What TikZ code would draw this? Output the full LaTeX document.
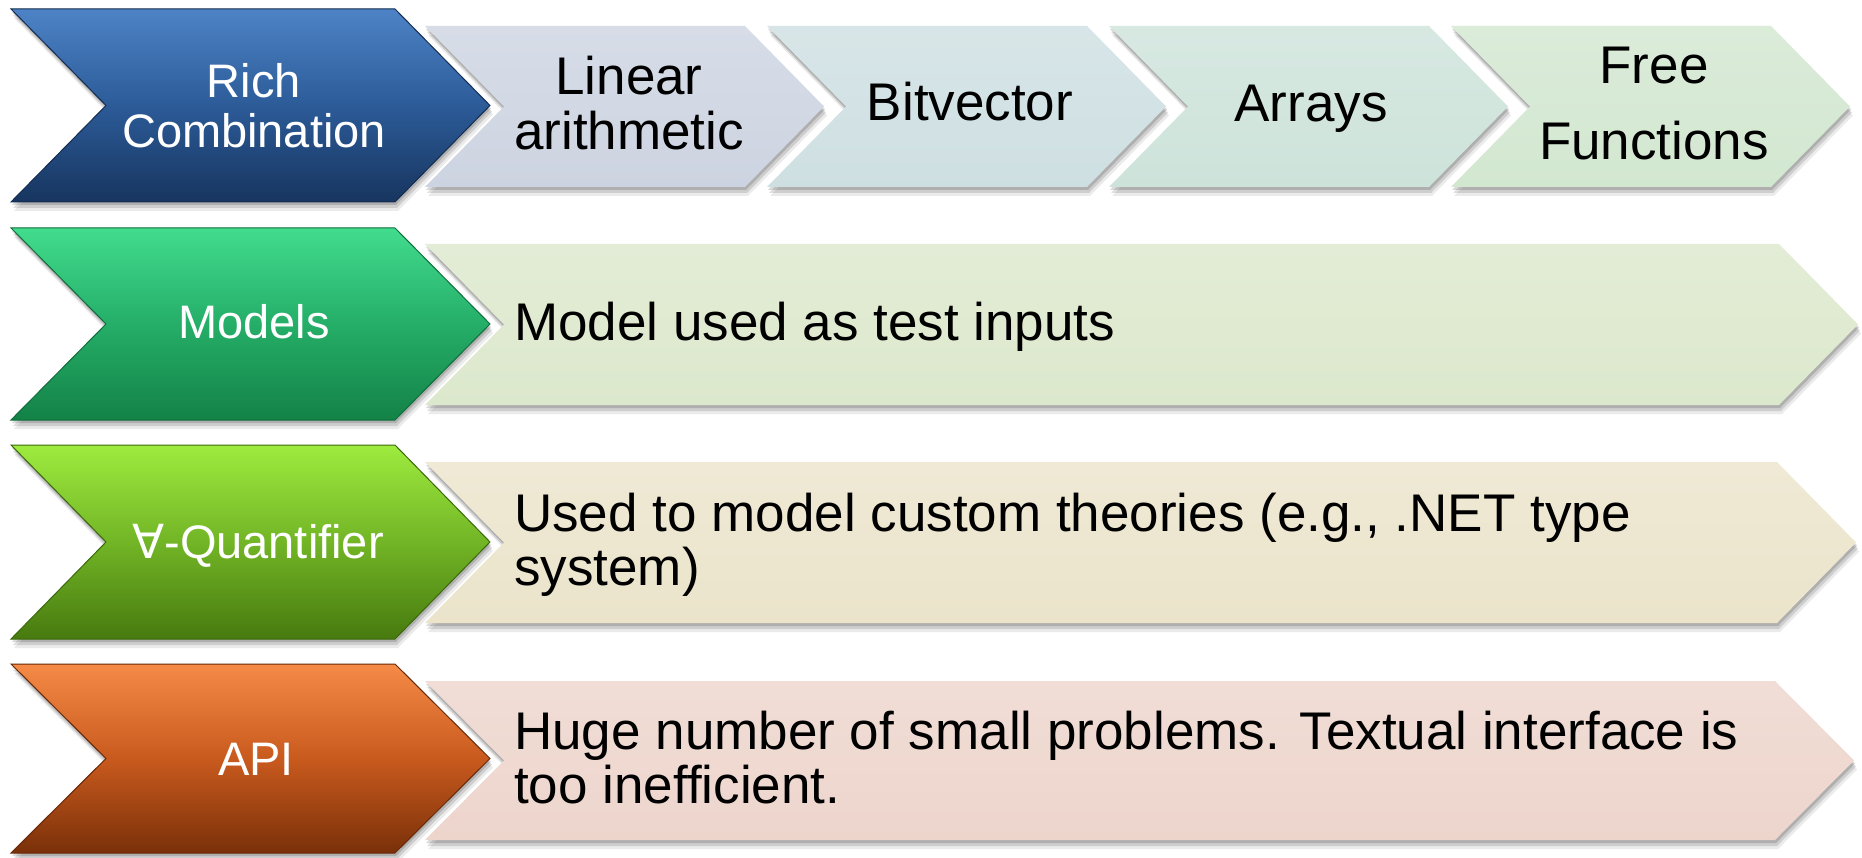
\documentclass[tikz,border=0pt]{standalone}
\usepackage{fontspec}
\setmainfont{Liberation Sans}
\newfontfamily\symfam{DejaVu Sans}
\usetikzlibrary{shadows}
\definecolor{bluetop}{HTML}{4D83C6}
\definecolor{bluemid}{HTML}{2C5B98}
\definecolor{bluebot}{HTML}{17355F}
\definecolor{greentop}{HTML}{42DC8E}
\definecolor{greenmid}{HTML}{25AE68}
\definecolor{greenbot}{HTML}{138246}
\definecolor{limetop}{HTML}{9EEB3E}
\definecolor{limemid}{HTML}{72B526}
\definecolor{limebot}{HTML}{477A0F}
\definecolor{orgtop}{HTML}{F58B47}
\definecolor{orgmid}{HTML}{C95A1E}
\definecolor{orgbot}{HTML}{7A3009}
\definecolor{linfill}{HTML}{CDD4E1}
\definecolor{bitfill}{HTML}{CEDFE2}
\definecolor{arrfill}{HTML}{CDE3DA}
\definecolor{fffill}{HTML}{D2E7D0}
\definecolor{modfill}{HTML}{DCE8CC}
\definecolor{quafill}{HTML}{EBE4CB}
\definecolor{apifill}{HTML}{EDD5CC}
\newcommand\chev[6]{\path[#6] (#1,#2) -- ({#3-#5},#2) -- (#3,{(#2+#4)/2}) -- ({#3-#5},#4) -- (#1,#4) -- ({#1+#5},{(#2+#4)/2}) -- cycle;}
\tikzset{
  shad/.style={
    drop shadow={shadow xshift=3pt,shadow yshift=-9pt,opacity=0.08,fill=black},
    drop shadow={shadow xshift=2pt,shadow yshift=-6pt,opacity=0.12,fill=black},
    drop shadow={shadow xshift=1pt,shadow yshift=-3pt,opacity=0.15,fill=black}},
  bigchev/.style n args={3}{shad, top color=#1, bottom color=#3, middle color=#2, draw=#3!85!black, line width=1pt},
  smallchev/.style={shad, top color=#1!80!white, bottom color=#1},
  lbl/.style={text=white, font=\fontsize{47}{50}\selectfont, align=center, inner sep=0pt},
  hd/.style={text=black, font=\fontsize{53}{55}\selectfont, align=center, inner sep=0pt},
  dt/.style={text=black, font=\fontsize{53}{54}\selectfont, align=left, inner sep=0pt},
}
\begin{document}
\begin{tikzpicture}[x=1pt,y=-1pt]
\useasboundingbox (0,0) rectangle (1862,858);
\fill[white] (0,0) rectangle (1862,858);
% detail shapes
\chev{425}{26}{824}{187}{79}{smallchev=linfill}
\chev{767}{26}{1166}{187}{79}{smallchev=bitfill}
\chev{1109}{26}{1508}{187}{79}{smallchev=arrfill}
\chev{1451}{26}{1850}{187}{79}{smallchev=fffill}
\chev{425}{244}{1858}{405}{79}{smallchev=modfill}
\chev{425}{462}{1856}{623}{79}{smallchev=quafill}
\chev{425}{681}{1854}{840}{79}{smallchev=apifill}
% left chevrons
\chev{11}{9}{490}{202}{95}{bigchev={bluetop}{bluemid}{bluebot}}
\chev{11}{228}{490}{420}{95}{bigchev={greentop}{greenmid}{greenbot}}
\chev{11}{445}{490}{639}{95}{bigchev={limetop}{limemid}{limebot}}
\chev{11}{664}{490}{853}{95}{bigchev={orgtop}{orgmid}{orgbot}}
% labels
\node[lbl, anchor=north] (rich) at (254,63) {Rich\\Combination};
\node[lbl, anchor=base] (models) at (254,338) {Models};
\node[lbl, anchor=base] (quant) at (258,558) {{\symfam ∀}-Quantifier};
\node[lbl, anchor=base] (api) at (256,775) {API};
\node[hd, anchor=north] (lin) at (629,56) {Linear\\arithmetic};
\node[hd, anchor=base] (bit) at (970,121) {Bitvector};
\node[hd, anchor=base] (arr) at (1311,122) {Arrays};
\node[hd, anchor=north] (ff) at (1654,47) {Free\\[21pt]Functions};
\node[dt, anchor=base west] (mtxt) at (514,341) {Model used as test inputs};
\node[dt, anchor=north west] (qtxt) at (514,493) {Used to model custom theories (e.g., .NET type\\system)};
\node[dt, anchor=north west] (atxt) at (514,711) {Huge number of small problems. Textual interface is\\too inefficient.};
\end{tikzpicture}
\end{document}
